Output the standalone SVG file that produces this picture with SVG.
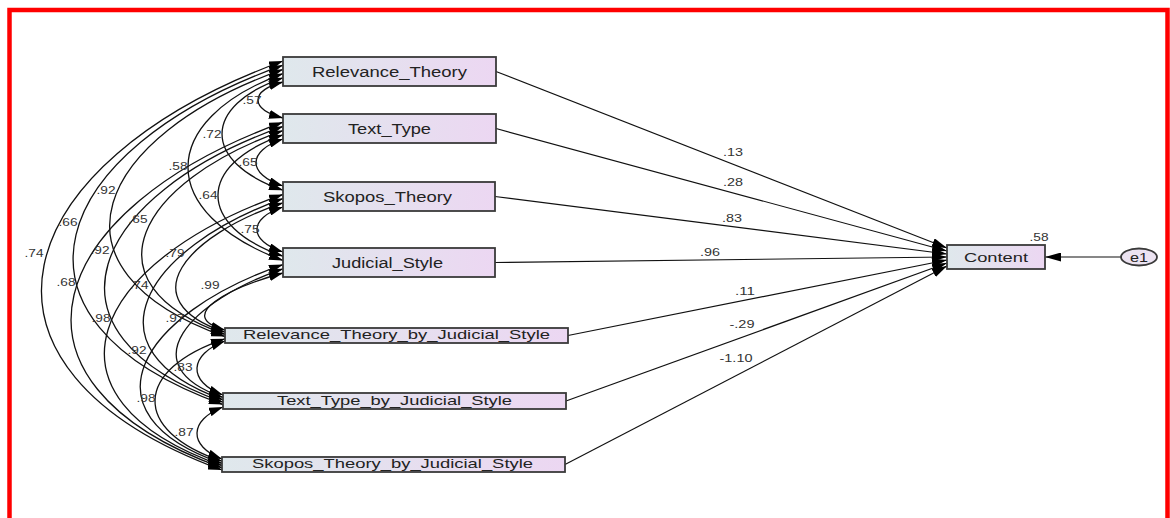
<svg xmlns="http://www.w3.org/2000/svg" width="1170" height="518" viewBox="0 0 1170 518">
  <style>
    .box { stroke: #3a3a3a; stroke-width: 1.8; fill: url(#g); }
    .lbl { font-family: "Liberation Sans", Arial, sans-serif; fill: #222; text-anchor: middle; }
    .big { font-size: 14px; }
    .small { font-size: 13px; }
    .num { font-family: "Liberation Sans", Arial, sans-serif; font-size: 10.5px; fill: #333; text-anchor: middle; }
    .cov { fill: none; stroke: #111; stroke-width: 1.3; marker-start: url(#ah); marker-end: url(#ah); }
    .reg { fill: none; stroke: #111; stroke-width: 1.2; marker-end: url(#ah3); }
  </style>
  <defs>
    <linearGradient id="g" x1="0" y1="0" x2="1" y2="0">
      <stop offset="0" stop-color="#dfe8ec"/>
      <stop offset="1" stop-color="#ecd7f2"/>
    </linearGradient>
    <marker id="ah" viewBox="0 0 14 9" refX="14" refY="4.5" markerWidth="14" markerHeight="9" markerUnits="userSpaceOnUse" orient="auto-start-reverse">
      <path d="M0,0 L14,4.5 L0,9 z" fill="#000"/>
    </marker>
    <marker id="ah3" viewBox="0 0 15 9" refX="15" refY="4.5" markerWidth="15" markerHeight="9" markerUnits="userSpaceOnUse" orient="auto">
      <path d="M0,0 L15,4.5 L0,9 z" fill="#000"/>
    </marker>
    <marker id="ah2" viewBox="0 0 16 9" refX="16" refY="4.5" markerWidth="16" markerHeight="9" markerUnits="userSpaceOnUse" orient="auto">
      <path d="M0,0 L16,4.5 L0,9 z" fill="#000"/>
    </marker>
  </defs>
  <rect x="0" y="0" width="1170" height="518" fill="#fff"/>
  <rect x="9.5" y="10" width="1158" height="600" fill="none" stroke="#ff0000" stroke-width="4.5"/>

  <g id="connectors">
    <!-- span 1 -->
    <path class="cov" d="M283,82 C249.7,91 249.7,109 283,118"/>
    <path class="cov" d="M283,139 C247,150.75 247,174.25 283,186"/>
    <path class="cov" d="M283,207 C248.3,218.25 248.3,240.75 283,252"/>
    <path class="cov" d="M283,273 C231,287.25 173,315.75 225,330"/>
    <path class="cov" d="M225,341 C189,354.5 187,381.5 223,395"/>
    <path class="cov" d="M223,407 C189,420 188,446 222,459"/>
    <!-- span 2 -->
    <path class="cov" d="M283,77.8 C201.7,105.9 201.7,162.1 283,190.2"/>
    <path class="cov" d="M283,134.8 C196.3,165.15 196.3,225.85 283,256.2"/>
    <path class="cov" d="M283,202.8 C187,235.15 129,299.85 225,332.2"/>
    <path class="cov" d="M283,268.8 C189.7,300.95 129.7,365.25 223,397.4"/>
    <path class="cov" d="M225,338.8 C133.7,369.4 130.7,430.6 222,461.2"/>
    <!-- span 3 -->
    <path class="cov" d="M283,73.6 C156.3,120.3 156.3,213.7 283,260.4"/>
    <path class="cov" d="M283,130.6 C139,181.55 81,283.45 225,334.4"/>
    <path class="cov" d="M283,198.6 C143,248.9 83,349.5 223,399.8"/>
    <path class="cov" d="M283,264.6 C139.7,314.3 78.7,413.7 222,463.4"/>
    <!-- span 4 -->
    <path class="cov" d="M283,69.4 C95,136.2 37,269.8 225,336.6"/>
    <path class="cov" d="M283,126.4 C89.7,195.35 29.7,333.25 223,402.2"/>
    <path class="cov" d="M283,194.4 C90.3,262.2 29.3,397.8 222,465.6"/>
    <!-- span 5 -->
    <path class="cov" d="M283,65.2 C47,150.05 -13,319.75 223,404.6"/>
    <path class="cov" d="M283,122.2 C45,208.6 -16,381.4 222,467.8"/>
    <!-- span 6 -->
    <path class="cov" d="M283,61 C5,163.25 -56,367.75 222,470"/>

    <!-- regressions -->
    <path class="reg" d="M496,71.5 L947,248"/>
    <path class="reg" d="M496,128.5 L947,251"/>
    <path class="reg" d="M495,196.5 L947,254"/>
    <path class="reg" d="M495,262.5 L947,257"/>
    <path class="reg" d="M568,335.5 L947,260"/>
    <path class="reg" d="M566,401 L947,263"/>
    <path class="reg" d="M565,464.5 L947,266"/>
    <path fill="none" stroke="#111" stroke-width="1.2" marker-end="url(#ah2)" d="M1121,257 L1045,257"/>

    <!-- covariance labels -->
    <text class="num" x="252" y="104" textLength="19" lengthAdjust="spacingAndGlyphs">.57</text>
    <text class="num" x="212" y="138" textLength="19" lengthAdjust="spacingAndGlyphs">.72</text>
    <text class="num" x="178" y="170" textLength="19" lengthAdjust="spacingAndGlyphs">.58</text>
    <text class="num" x="248" y="166" textLength="19" lengthAdjust="spacingAndGlyphs">.65</text>
    <text class="num" x="208" y="199" textLength="19" lengthAdjust="spacingAndGlyphs">.64</text>
    <text class="num" x="250" y="233" textLength="19" lengthAdjust="spacingAndGlyphs">.75</text>
    <text class="num" x="106" y="194" textLength="19" lengthAdjust="spacingAndGlyphs">.92</text>
    <text class="num" x="68" y="226" textLength="19" lengthAdjust="spacingAndGlyphs">.66</text>
    <text class="num" x="34" y="257" textLength="19" lengthAdjust="spacingAndGlyphs">.74</text>
    <text class="num" x="138" y="223" textLength="19" lengthAdjust="spacingAndGlyphs">.65</text>
    <text class="num" x="100" y="254" textLength="19" lengthAdjust="spacingAndGlyphs">.92</text>
    <text class="num" x="175" y="257" textLength="19" lengthAdjust="spacingAndGlyphs">.79</text>
    <text class="num" x="66" y="286" textLength="19" lengthAdjust="spacingAndGlyphs">.68</text>
    <text class="num" x="139" y="289" textLength="19" lengthAdjust="spacingAndGlyphs">.74</text>
    <text class="num" x="210" y="289" textLength="19" lengthAdjust="spacingAndGlyphs">.99</text>
    <text class="num" x="101" y="322" textLength="19" lengthAdjust="spacingAndGlyphs">.98</text>
    <text class="num" x="175" y="322" textLength="19" lengthAdjust="spacingAndGlyphs">.97</text>
    <text class="num" x="137" y="354" textLength="19" lengthAdjust="spacingAndGlyphs">.92</text>
    <text class="num" x="183" y="371" textLength="19" lengthAdjust="spacingAndGlyphs">.83</text>
    <text class="num" x="146" y="402" textLength="19" lengthAdjust="spacingAndGlyphs">.98</text>
    <text class="num" x="184" y="436" textLength="19" lengthAdjust="spacingAndGlyphs">.87</text>

    <!-- regression labels -->
    <text class="num" x="733" y="156" textLength="20" lengthAdjust="spacingAndGlyphs">.13</text>
    <text class="num" x="733" y="186" textLength="20" lengthAdjust="spacingAndGlyphs">.28</text>
    <text class="num" x="732" y="222" textLength="20" lengthAdjust="spacingAndGlyphs">.83</text>
    <text class="num" x="710" y="256" textLength="20" lengthAdjust="spacingAndGlyphs">.96</text>
    <text class="num" x="745" y="295" textLength="20" lengthAdjust="spacingAndGlyphs">.11</text>
    <text class="num" x="742" y="328" textLength="25" lengthAdjust="spacingAndGlyphs">-.29</text>
    <text class="num" x="736" y="362" textLength="33" lengthAdjust="spacingAndGlyphs">-1.10</text>
  </g>

  <g id="node-relevance-theory">
    <rect class="box" x="283" y="57" width="213" height="29"/>
    <text class="lbl big" x="389.5" y="77" textLength="155" lengthAdjust="spacingAndGlyphs">Relevance_Theory</text>
  </g>
  <g id="node-text-type">
    <rect class="box" x="283" y="114" width="213" height="29"/>
    <text class="lbl big" x="389.5" y="133.5" textLength="83" lengthAdjust="spacingAndGlyphs">Text_Type</text>
  </g>
  <g id="node-skopos-theory">
    <rect class="box" x="283" y="182" width="212" height="29"/>
    <text class="lbl big" x="387.5" y="201.5" textLength="129" lengthAdjust="spacingAndGlyphs">Skopos_Theory</text>
  </g>
  <g id="node-judicial-style">
    <rect class="box" x="283" y="248" width="212" height="29"/>
    <text class="lbl big" x="387.5" y="267.5" textLength="111" lengthAdjust="spacingAndGlyphs">Judicial_Style</text>
  </g>
  <g id="node-rt-by-js">
    <rect class="box" x="225" y="328" width="343" height="15"/>
    <text class="lbl small" x="396.5" y="339" textLength="307" lengthAdjust="spacingAndGlyphs">Relevance_Theory_by_Judicial_Style</text>
  </g>
  <g id="node-tt-by-js">
    <rect class="box" x="223" y="393" width="343" height="16"/>
    <text class="lbl small" x="394.5" y="404.5" textLength="235" lengthAdjust="spacingAndGlyphs">Text_Type_by_Judicial_Style</text>
  </g>
  <g id="node-sk-by-js">
    <rect class="box" x="222" y="457" width="343" height="15"/>
    <text class="lbl small" x="392.5" y="468" textLength="281" lengthAdjust="spacingAndGlyphs">Skopos_Theory_by_Judicial_Style</text>
  </g>
  <g id="node-content">
    <rect class="box" x="947" y="245" width="98" height="24"/>
    <text class="lbl small" x="996" y="262" textLength="64" lengthAdjust="spacingAndGlyphs">Content</text>
    <text class="num" x="1039" y="241" textLength="19" lengthAdjust="spacingAndGlyphs">.58</text>
  </g>
  <g id="node-e1">
    <ellipse cx="1139" cy="257" rx="18" ry="8.5" fill="#ece3f1" stroke="#3a3a3a" stroke-width="1.8"/>
    <text class="lbl small" x="1139" y="261.5" textLength="18" lengthAdjust="spacingAndGlyphs">e1</text>
  </g>
</svg>
